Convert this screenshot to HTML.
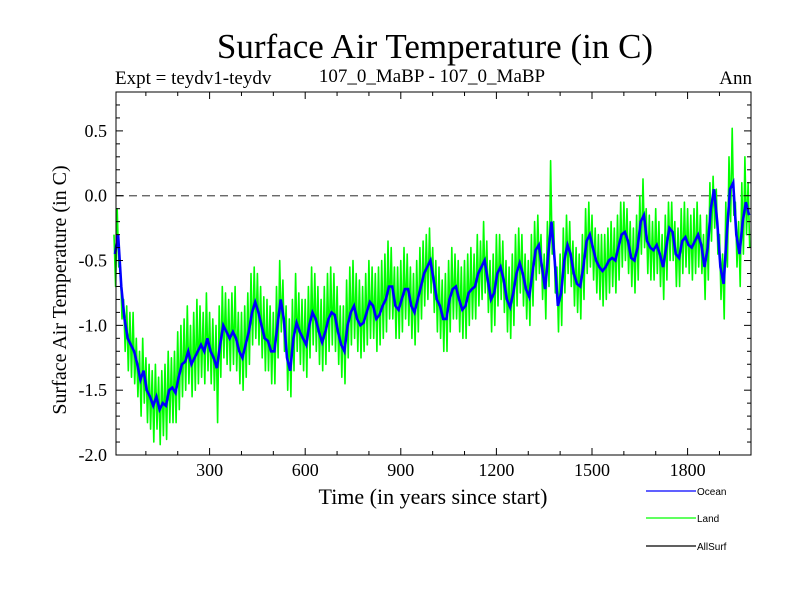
<!DOCTYPE html>
<html><head><meta charset="utf-8"><style>
body{margin:0;background:#fff;}
svg text{font-family:"Liberation Serif",serif;}
</style></head><body>
<svg id="chart" width="800" height="600" viewBox="0 0 800 600" xmlns="http://www.w3.org/2000/svg">
<text x="435" y="58" font-size="35" text-anchor="middle">Surface Air Temperature (in C)</text>
<text x="115" y="84" font-size="19">Expt = teydv1-teydv</text>
<text x="432" y="82" font-size="19" text-anchor="middle">107_0_MaBP - 107_0_MaBP</text>
<text x="752" y="84" font-size="19" text-anchor="end">Ann</text>
<text x="433" y="504" font-size="22" text-anchor="middle">Time (in years since start)</text>
<text transform="translate(66,290) rotate(-90)" font-size="20" text-anchor="middle">Surface Air Temperature (in C)</text>
<g id="plot"></g>
<g>
 <line x1="646" y1="491" x2="696" y2="491" stroke="#0000ff" stroke-width="1.2"/>
 <text x="697" y="495" font-size="10" style="font-family:'Liberation Sans',sans-serif">Ocean</text>
 <line x1="646" y1="518" x2="696" y2="518" stroke="#00ff00" stroke-width="1.2"/>
 <text x="697" y="522" font-size="10" style="font-family:'Liberation Sans',sans-serif">Land</text>
 <line x1="646" y1="546" x2="696" y2="546" stroke="#000" stroke-width="1.2"/>
 <text x="697" y="550" font-size="10" style="font-family:'Liberation Sans',sans-serif">AllSurf</text>
</g>
</svg>
<script>
const years = []; for (let i = 0; i < 200; i++) years.push(i * 10);
const ocean = [-0.45,-0.3,-0.7,-0.95,-1.1,-1.15,-1.2,-1.3,-1.42,-1.35,
-1.5,-1.55,-1.62,-1.55,-1.65,-1.6,-1.62,-1.5,-1.48,-1.52,
-1.4,-1.3,-1.28,-1.2,-1.3,-1.25,-1.2,-1.15,-1.2,-1.1,
-1.2,-1.25,-1.33,-1.15,-1.0,-1.05,-1.1,-1.05,-1.1,-1.2,
-1.25,-1.15,-1.05,-0.9,-0.82,-0.9,-1.0,-1.1,-1.12,-1.2,
-1.2,-1.0,-0.8,-0.95,-1.25,-1.35,-1.1,-0.98,-1.05,-1.1,
-1.15,-1.0,-0.9,-0.95,-1.05,-1.13,-1.05,-0.95,-0.9,-0.92,
-1.05,-1.15,-1.2,-1.0,-0.9,-0.85,-0.95,-1.0,-0.98,-0.9,
-0.82,-0.85,-0.95,-0.92,-0.85,-0.8,-0.7,-0.7,-0.85,-0.88,
-0.8,-0.72,-0.72,-0.85,-0.9,-0.8,-0.7,-0.6,-0.55,-0.5,
-0.65,-0.8,-0.85,-0.95,-0.95,-0.8,-0.72,-0.7,-0.8,-0.88,
-0.85,-0.75,-0.72,-0.7,-0.6,-0.55,-0.5,-0.65,-0.8,-0.75,
-0.6,-0.55,-0.65,-0.8,-0.86,-0.75,-0.6,-0.52,-0.6,-0.72,
-0.78,-0.6,-0.42,-0.38,-0.55,-0.72,-0.45,-0.2,-0.5,-0.85,
-0.75,-0.5,-0.38,-0.45,-0.6,-0.68,-0.7,-0.55,-0.35,-0.3,
-0.4,-0.5,-0.55,-0.58,-0.55,-0.5,-0.48,-0.5,-0.4,-0.3,
-0.28,-0.35,-0.48,-0.5,-0.4,-0.2,-0.15,-0.35,-0.4,-0.42,
-0.38,-0.45,-0.55,-0.4,-0.25,-0.28,-0.45,-0.48,-0.35,-0.32,
-0.38,-0.4,-0.35,-0.3,-0.38,-0.55,-0.4,-0.1,0.05,-0.2,
-0.55,-0.68,-0.3,0.05,0.1,-0.3,-0.45,-0.2,-0.05,-0.15];
const landPeak = [-0.3,-0.1,-0.55,-0.8,-0.85,-0.9,-0.9,-1.1,-1.2,-1.1,
-1.25,-1.3,-1.35,-1.3,-1.4,-1.35,-1.3,-1.2,-1.25,-1.2,
-1.05,-1.0,-0.95,-0.85,-1.0,-0.9,-0.8,-0.85,-0.9,-0.75,
-0.9,-0.95,-1.0,-0.85,-0.7,-0.75,-0.8,-0.75,-0.7,-0.9,
-0.9,-0.85,-0.75,-0.6,-0.55,-0.6,-0.7,-0.78,-0.8,-0.85,
-0.9,-0.7,-0.5,-0.65,-0.85,-0.95,-0.8,-0.6,-0.75,-0.8,
-0.8,-0.7,-0.55,-0.6,-0.7,-0.8,-0.7,-0.6,-0.55,-0.6,
-0.7,-0.85,-0.85,-0.65,-0.55,-0.5,-0.6,-0.65,-0.7,-0.6,
-0.5,-0.55,-0.6,-0.55,-0.5,-0.45,-0.35,-0.4,-0.55,-0.55,
-0.5,-0.4,-0.45,-0.55,-0.6,-0.5,-0.4,-0.35,-0.3,-0.25,
-0.4,-0.5,-0.55,-0.65,-0.6,-0.5,-0.4,-0.45,-0.5,-0.55,
-0.5,-0.45,-0.4,-0.45,-0.3,-0.35,-0.2,-0.35,-0.5,-0.45,
-0.3,-0.3,-0.35,-0.5,-0.55,-0.45,-0.3,-0.25,-0.3,-0.45,
-0.5,-0.3,-0.2,-0.15,-0.3,-0.45,-0.2,0.27,-0.2,-0.55,
-0.45,-0.25,-0.15,-0.2,-0.35,-0.4,-0.45,-0.3,-0.1,-0.05,
-0.15,-0.25,-0.3,-0.3,-0.3,-0.25,-0.2,-0.25,-0.15,-0.05,
-0.05,-0.1,-0.2,-0.25,-0.15,0.0,0.13,-0.1,-0.15,-0.2,
-0.1,-0.2,-0.3,-0.15,-0.05,-0.05,-0.2,-0.25,-0.1,-0.05,
-0.1,-0.15,-0.1,-0.05,-0.15,-0.3,-0.15,0.1,0.15,0.05,
-0.3,-0.45,-0.05,0.3,0.52,-0.05,-0.2,0.1,0.3,0.1];
const landTrough = [-0.7,-0.55,-0.95,-1.2,-1.35,-1.4,-1.45,-1.55,-1.7,-1.6,
-1.75,-1.8,-1.9,-1.8,-1.92,-1.85,-1.88,-1.75,-1.75,-1.75,
-1.65,-1.55,-1.5,-1.45,-1.55,-1.5,-1.45,-1.4,-1.45,-1.35,
-1.45,-1.5,-1.75,-1.4,-1.25,-1.3,-1.35,-1.3,-1.35,-1.45,
-1.5,-1.4,-1.3,-1.15,-1.1,-1.15,-1.25,-1.35,-1.35,-1.45,
-1.45,-1.25,-1.05,-1.2,-1.5,-1.55,-1.35,-1.2,-1.3,-1.35,
-1.4,-1.25,-1.15,-1.2,-1.3,-1.35,-1.3,-1.2,-1.15,-1.2,
-1.3,-1.4,-1.45,-1.25,-1.15,-1.1,-1.2,-1.25,-1.2,-1.15,
-1.1,-1.1,-1.2,-1.15,-1.1,-1.05,-0.95,-0.95,-1.1,-1.1,
-1.05,-0.95,-1.0,-1.1,-1.15,-1.05,-0.95,-0.85,-0.8,-0.75,
-0.9,-1.05,-1.1,-1.2,-1.2,-1.05,-0.95,-0.95,-1.05,-1.1,
-1.1,-1.0,-0.95,-0.95,-0.85,-0.8,-0.75,-0.9,-1.05,-1.0,
-0.85,-0.8,-0.9,-1.05,-1.1,-1.0,-0.85,-0.75,-0.85,-0.95,
-1.0,-0.85,-0.65,-0.6,-0.8,-0.95,-0.7,-0.45,-0.75,-1.05,
-1.0,-0.75,-0.6,-0.7,-0.85,-0.9,-0.95,-0.8,-0.6,-0.55,
-0.65,-0.75,-0.8,-0.85,-0.8,-0.75,-0.7,-0.75,-0.65,-0.55,
-0.5,-0.6,-0.7,-0.75,-0.65,-0.45,-0.4,-0.6,-0.65,-0.65,
-0.6,-0.7,-0.8,-0.65,-0.5,-0.5,-0.7,-0.7,-0.6,-0.55,
-0.6,-0.65,-0.6,-0.55,-0.6,-0.8,-0.65,-0.35,-0.25,-0.45,
-0.8,-0.95,-0.55,-0.2,-0.15,-0.55,-0.7,-0.45,-0.3,-0.4];
const xTicks = [300,600,900,1200,1500,1800];
const yTicks = [0.5,0.0,-0.5,-1.0,-1.5,-2.0];
const yTickLabels = ["0.5","0.0","-0.5","-1.0","-1.5","-2.0"];

const L=116,R=751,T=92,B=455, X0=0,X1=1999, Y0=-2.0,Y1=0.8;
const px=v=>114+(v-X0)*(R-114)/(X1-X0);
const py=v=>B-(v-Y0)*(B-T)/(Y1-Y0);
const NS="http://www.w3.org/2000/svg";
const g=document.getElementById('plot');
function mk(t,a){const e=document.createElementNS(NS,t);for(const k in a)e.setAttribute(k,a[k]);g.appendChild(e);return e;}

const zl=mk('line',{x1:L,x2:R,y1:py(0),y2:py(0),stroke:'#555','stroke-width':1.2,'stroke-dasharray':'8,5'});



let d='';
for(let i=0;i<years.length;i++){
  d+=(i?'L':'M')+px(years[i]).toFixed(1)+','+py(landPeak[i]).toFixed(1);
  d+='L'+px(years[i]+5).toFixed(1)+','+py(landTrough[i]).toFixed(1);
}
const land=mk('path',{d:d,fill:'none',stroke:'#00ff00','stroke-width':1.6,'stroke-linejoin':'round'});



let d2='';
for(let i=0;i<years.length;i++) d2+=(i?'L':'M')+px(years[i]+3).toFixed(1)+','+py(ocean[i]).toFixed(1);
const oc=mk('path',{d:d2,fill:'none',stroke:'#0000ff','stroke-width':2.6,'stroke-linejoin':'miter'});



const fr=mk('rect',{x:L,y:T,width:R-L,height:B-T,fill:'none',stroke:'#000','stroke-width':1});



for(let v=100;v<X1;v+=100){
  const major=v%300===0, len=major?7:4, x=px(v);
  const t1=mk('line',{x1:x,x2:x,y1:B,y2:B-len,stroke:'#000'});
  
  
  const t2=mk('line',{x1:x,x2:x,y1:T,y2:T+len,stroke:'#000'});
  
  
}
xTicks.forEach(v=>{
  const t=mk('text',{x:px(v),y:B+21,'font-size':18,'text-anchor':'middle'});
  t.textContent=v;
  
  
});
for(let k=-20;k<=7;k++){
  const v=k/10, major=k%5===0, len=major?7:4, y=py(v);
  const t1=mk('line',{x1:L,x2:L+len,y1:y,y2:y,stroke:'#000'});
  
  
  const t2=mk('line',{x1:R,x2:R-len,y1:y,y2:y,stroke:'#000'});
  
  
}
yTicks.forEach((v,i)=>{
  const t=mk('text',{x:107,y:py(v)+6,'font-size':18,'text-anchor':'end'});
  t.textContent=yTickLabels[i];
  
  
});
</script>
</body></html>
